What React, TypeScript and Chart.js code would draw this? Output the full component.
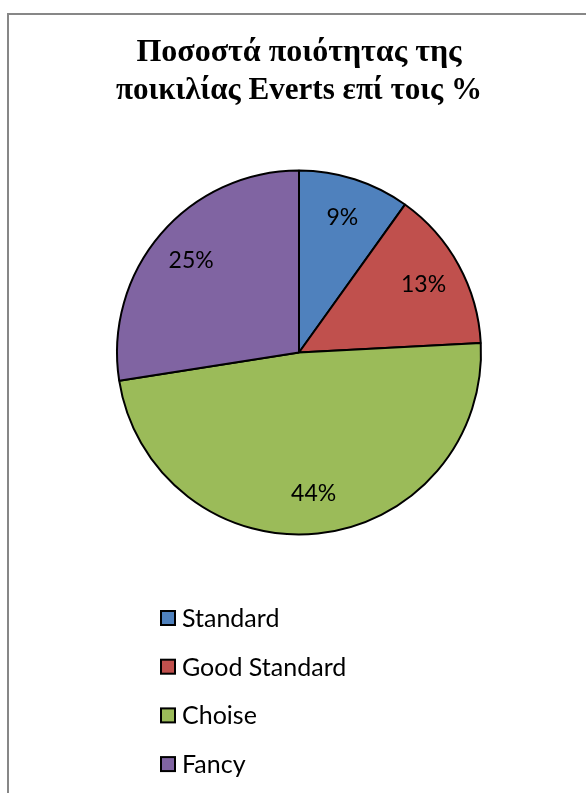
import React, { useEffect, useRef } from "react";
import { Chart, registerables } from "chart.js";

Chart.register(...registerables);

const categories = ["Standard", "Good Standard", "Choise", "Fancy"];
const values = [9, 13, 44, 25];
const sliceColors = ["#4F81BD", "#C0504D", "#9BBB59", "#8064A2"];
const titleLines = ["Ποσοστά ποιότητας της", "ποικιλίας Everts επί τοις %"];

const W = 586;
const H = 793;

const overlayPlugin = {
  id: "overlay",
  afterDraw(chart: any) {
    const ctx = chart.ctx as CanvasRenderingContext2D;
    ctx.save();
    // frame (top and left edge visible)
    ctx.strokeStyle = "#878787";
    ctx.lineWidth = 2;
    ctx.beginPath();
    ctx.moveTo(8, H + 5);
    ctx.lineTo(8, 14);
    ctx.lineTo(W + 5, 14);
    ctx.stroke();

    // percent labels
    const meta = chart.getDatasetMeta(0);
    ctx.font = "23px Lato";
    ctx.fillStyle = "#000";
    ctx.textAlign = "center";
    ctx.textBaseline = "middle";
    meta.data.forEach((arc: any, i: number) => {
      const p = arc.getProps(["x", "y", "startAngle", "endAngle", "outerRadius"], true);
      const mid = (p.startAngle + p.endAngle) / 2;
      const r = p.outerRadius * 0.78;
      ctx.fillText(values[i] + "%", p.x + Math.cos(mid) * r, p.y + Math.sin(mid) * r);
    });

    // legend (vertical list)
    ctx.textAlign = "left";
    ctx.textBaseline = "alphabetic";
    ctx.font = "25px Lato";
    const x0 = 161;
    const baseY = 627;
    const step = 48.7;
    categories.forEach((c, i) => {
      const by = baseY + i * step;
      ctx.fillStyle = sliceColors[i];
      ctx.fillRect(x0, by - 16, 14, 14);
      ctx.strokeStyle = "#000";
      ctx.lineWidth = 2;
      ctx.strokeRect(x0, by - 16, 14, 14);
      ctx.fillStyle = "#000";
      ctx.fillText(c, x0 + 21, by);
    });
    ctx.restore();
  },
};

export default function App() {
  const ref = useRef<HTMLCanvasElement | null>(null);
  useEffect(() => {
    if (!ref.current) return;
    const chart = new Chart(ref.current, {
      type: "pie",
      data: {
        labels: categories,
        datasets: [
          {
            data: values,
            backgroundColor: sliceColors,
            borderColor: "#000",
            borderWidth: 2,
          },
        ],
      },
      options: {
        responsive: false,
        animation: false,
        layout: { padding: { left: 116, right: 104, top: 0, bottom: 257 } },
        plugins: {
          legend: { display: false },
          tooltip: { enabled: false },
          title: {
            display: true,
            text: titleLines,
            color: "#000",
            font: { family: "'Liberation Serif'", size: 32, weight: "bold", lineHeight: 1.19 },
            padding: { top: 33.2, bottom: 59.7 },
          },
        },
      },
      plugins: [overlayPlugin],
    });
    return () => chart.destroy();
  }, []);
  return (
    <div style={{ position: "absolute", left: 0, top: 0, width: W, height: H, background: "#fff" }}>
      <canvas ref={ref} width={W} height={H} style={{ display: "block" }} />
    </div>
  );
}
